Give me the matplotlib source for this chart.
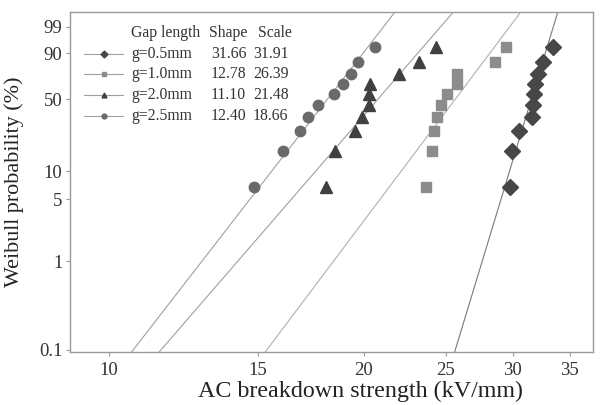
import numpy as np
import matplotlib.pyplot as plt

plt.rcParams['font.family'] = ['Liberation Serif', 'DejaVu Serif']

# Weibull median ranks (%), same 10 ranks for every gap
prob = [6.7, 16.3, 25.9, 35.6, 45.2, 54.8, 64.4, 74.1, 83.7, 93.3]

# breakdown strength (kV/mm), sorted
e_05 = [29.74, 29.90, 30.50, 31.64, 31.69, 31.78, 31.86, 32.16, 32.57, 33.46]
e_10 = [23.70, 24.09, 24.18, 24.40, 24.69, 25.05, 25.76, 25.79, 28.57, 29.47]
e_20 = [18.05, 18.51, 19.55, 19.91, 20.27, 20.31, 20.36, 22.04, 23.23, 24.31]
e_25 = [14.85, 16.04, 16.81, 17.21, 17.64, 18.43, 18.88, 19.34, 19.67, 20.64]

labels = ['g=0.5mm', 'g=1.0mm', 'g=2.0mm', 'g=2.5mm']
shape = [31.66, 12.78, 11.10, 12.40]
scale = [31.91, 26.39, 21.48, 18.66]

y_ticks = [0.1, 1, 5, 10, 50, 90, 99]
x_ticks = [10, 15, 20, 25, 30, 35]

markers = ['D', 's', '^', 'o']
msizes = [8, 6.5, 9, 7.5]
mcolors = ['#474747', '#8c8c8c', '#404040', '#6a6a6a']
lcolors = ['#7a7a7a', '#b0b0b0', '#a0a0a0', '#a0a0a0']


def fwd(p):
    p = np.asarray(p, dtype=float)
    with np.errstate(all='ignore'):
        return np.log(-np.log(1 - p / 100.0))


def inv(w):
    w = np.asarray(w, dtype=float)
    with np.errstate(all='ignore'):
        return 100.0 * (1 - np.exp(-np.exp(w)))


fig = plt.figure(figsize=(6.04, 4.05), dpi=100)
ax = fig.add_axes([70 / 604, 53 / 405, 523 / 604, 340 / 405])
ax.set_xscale('log')
ax.set_yscale('function', functions=(fwd, inv))

data = [e_05, e_10, e_20, e_25]
x_line = np.linspace(9, 38, 400)
for i in range(4):
    # Weibull fit line
    y_fit = 100 * (1 - np.exp(-(x_line / scale[i]) ** shape[i]))
    ax.plot(x_line, y_fit, color=lcolors[i], lw=0.8, zorder=1)
    ax.plot(data[i], prob, linestyle='none', marker=markers[i], ms=msizes[i],
            color=mcolors[i], mec=mcolors[i], zorder=2)

ax.set_xlim(9, 37.3)
ax.set_ylim(inv(-6.965), inv(1.913))
ax.set_xticks(x_ticks)
ax.set_xticklabels([str(t) for t in x_ticks])
ax.xaxis.set_minor_locator(plt.NullLocator())
ax.set_yticks(y_ticks)
ax.set_yticklabels([str(t) for t in y_ticks])
ax.yaxis.set_minor_locator(plt.NullLocator())

for s in ax.spines.values():
    s.set_color('#9a9a9a')
    s.set_linewidth(1.0)
ax.tick_params(colors='#9a9a9a', labelcolor='#333333', labelsize=13.5,
               length=3, width=0.8)
ax.tick_params(axis='y', pad=2.5)
ax.tick_params(axis='x', pad=4)

ax.set_xlabel('AC breakdown strength (kV/mm)', fontsize=17.3, color='#222222')
ax.xaxis.set_label_coords(0.5545, -0.086)
ax.set_ylabel('Weibull probability (%)', fontsize=15.9, color='#222222')
ax.yaxis.set_label_coords(-0.088, 0.5)


# hand-made legend table (pixel positions of the reference)
def fp(px, py):
    return px / 604, (405 - py) / 405


tkw = dict(transform=fig.transFigure, fontsize=11.3, color='#333333', va='center')
fig.text(*fp(131, 33), 'Gap length', **tkw)
fig.text(*fp(209, 33), 'Shape', **tkw)
fig.text(*fp(258, 33), 'Scale', **tkw)
rows = [53.5, 73.5, 95, 115.7]
for i in range(4):
    x0, y0 = fp(84, rows[i])
    x1, _ = fp(123, rows[i])
    xm, _ = fp(104, rows[i])
    fig.add_artist(plt.Line2D([x0, x1], [y0, y0], transform=fig.transFigure,
                              color='#a0a0a0', lw=0.8))
    fig.add_artist(plt.Line2D([xm], [y0], transform=fig.transFigure,
                              marker=markers[i], ms=3.5, color=mcolors[i],
                              linestyle='none'))
    fig.text(*fp(131, rows[i]), labels[i], **tkw)
    fig.text(*fp(211, rows[i]), f'{shape[i]:.2f}', **tkw)
    fig.text(*fp(253, rows[i]), f'{scale[i]:.2f}', **tkw)

fig.savefig('out.png', dpi=100)
